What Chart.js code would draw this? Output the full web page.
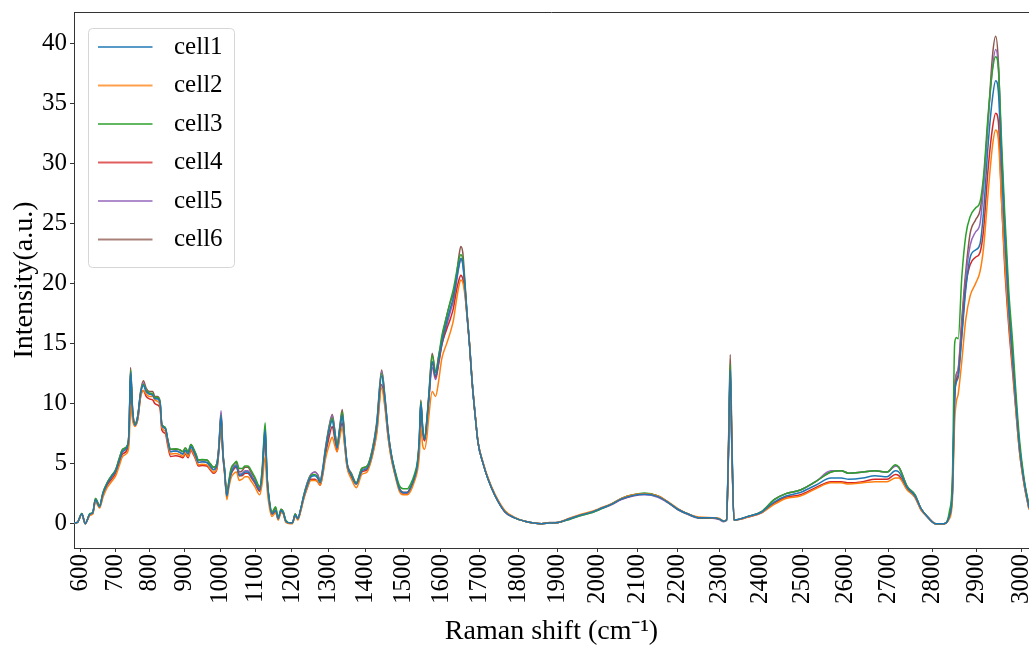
<!DOCTYPE html>
<html>
<head>
<meta charset="utf-8">
<script src="https://cdn.jsdelivr.net/npm/chart.js@4.4.1/dist/chart.umd.min.js"></script>
<style>
  html, body { margin: 0; padding: 0; background: #fff; overflow: hidden; }
  #wrap { width: 1029px; height: 648px; }
</style>
</head>
<body>
<div id="wrap"><canvas id="myChart1" width="1029" height="648"></canvas></div>
<script>
// Raman shift (cm-1) of the sampled points
const shift = [
  580, 590, 603, 613, 627, 635, 643, 655, 665, 677,
  690, 702, 712, 722, 737, 741, 745, 751, 758, 766,
  774, 782, 790, 799, 809, 815, 822, 830, 835, 845,
  852, 860, 875, 886, 895, 902, 910, 918, 926, 932,
  939, 950, 963, 972, 982, 991, 997, 1003, 1008, 1013,
  1019, 1025, 1031, 1040, 1046, 1054, 1062, 1070, 1078, 1088,
  1097, 1111, 1118, 1126, 1131, 1138, 1145, 1155, 1162, 1170,
  1176, 1183, 1195, 1201, 1209, 1216, 1224, 1232, 1242, 1252,
  1263, 1270, 1277, 1284, 1291, 1302, 1310, 1316, 1323, 1330,
  1337, 1344, 1350, 1362, 1375, 1390, 1404, 1418, 1430, 1443,
  1452, 1460, 1468, 1478, 1490, 1500, 1511, 1520, 1530, 1538,
  1543, 1547, 1552, 1557, 1563, 1568, 1577, 1586, 1594, 1602,
  1615, 1625, 1633, 1640, 1647, 1652, 1657, 1662, 1668, 1675,
  1681, 1690, 1697, 1710, 1723, 1740, 1766, 1790, 1817, 1840,
  1860, 1880, 1902, 1930, 1962, 1990, 2012, 2035, 2061, 2090,
  2118, 2151, 2175, 2200, 2225, 2250, 2283, 2300, 2311, 2318,
  2323, 2327, 2331, 2336, 2370, 2402, 2432, 2460, 2494, 2530,
  2566, 2590, 2607, 2640, 2668, 2696, 2715, 2723, 2742, 2760,
  2773, 2790, 2807, 2826, 2838, 2845, 2850, 2854, 2858, 2866,
  2875, 2885, 2897, 2907, 2915, 2925, 2935, 2942, 2948, 2955,
  2962, 2971, 2980, 2986, 2995, 3005, 3016
];

const cell1 = [
  0.05, 0.1, 0.8, 0, 0.8, 0.9, 2.0, 1.4, 2.5, 3.3,
  3.9, 4.4, 5.2, 6.0, 6.5, 7.8, 12.6, 9.3, 8.2, 8.9,
  10.8, 11.5, 11.0, 10.8, 10.7, 10.4, 10.4, 10.0, 8.2, 7.9,
  6.9, 6.0, 6.05, 5.95, 5.8, 6.1, 5.8, 6.4, 6.0, 5.6,
  5.1, 5.15, 5.1, 4.8, 4.5, 4.8, 6.3, 9.0, 5.9, 4.3,
  2.3, 3.3, 4.2, 4.7, 4.8, 4.0, 4.1, 4.3, 4.3, 3.9,
  3.5, 2.8, 4.2, 7.8, 3.9, 1.7, 0.8, 1.1, 0.4, 1.1,
  0.9, 0.2, 0.05, 0.05, 0.7, 0.4, 1.2, 2.2, 3.2, 3.9,
  4.0, 3.8, 3.4, 4.3, 5.9, 7.8, 8.6, 7.6, 6.3, 7.7,
  9.0, 6.8, 5.0, 4.0, 3.3, 4.4, 4.6, 5.9, 8.1, 12.3,
  10.2, 7.6, 5.8, 4.3, 2.9, 2.6, 2.6, 3.0, 3.8, 4.9,
  6.8, 10.0, 7.8, 7.0, 8.5, 10.4, 13.5, 12.3, 13.6, 15.0,
  16.8, 18.0, 18.9, 20.2, 21.5, 22.1, 21.7, 20.0, 17.5, 14.8,
  12.0, 8.8, 6.7, 5.0, 3.7, 2.4, 1.0, 0.5, 0.2, 0.05,
  0, 0.05, 0.1, 0.4, 0.75, 1.0, 1.3, 1.6, 2.05, 2.35,
  2.45, 2.25, 1.8, 1.2, 0.8, 0.5, 0.5, 0.4, 0.2, 0.3,
  6.4, 12.8, 6.4, 0.3, 0.6, 0.95, 1.8, 2.3, 2.6, 3.2,
  3.8, 3.8, 3.7, 3.8, 4.0, 3.9, 4.4, 4.3, 3.0, 2.3,
  1.3, 0.5, 0, 0, 0.6, 2.6, 10.5, 11.8, 12.2, 15.5,
  19.5, 22.2, 22.8, 23.3, 26.0, 31.5, 35.5, 36.9, 36.0, 30.0,
  24.0, 18.0, 13.5, 10.5, 6.3, 3.5, 1.3
];

const cell2 = [
  0.05, 0.1, 0.75, 0, 0.7, 0.8, 1.8, 1.3, 2.2, 3.0,
  3.5, 4.0, 4.8, 5.6, 6.0, 6.8, 9.9, 8.6, 8.1, 8.7,
  10.5, 11.1, 10.8, 10.6, 10.6, 10.3, 10.2, 9.8, 8.0, 7.7,
  6.7, 5.8, 5.85, 5.75, 5.6, 5.9, 5.6, 6.2, 5.8, 5.4,
  4.9, 4.95, 4.9, 4.6, 4.3, 4.6, 6.2, 8.9, 5.8, 4.1,
  2.0, 3.0, 3.8, 4.2, 4.3, 3.6, 3.7, 3.9, 3.9, 3.5,
  3.1, 2.4, 3.4, 5.6, 3.0, 1.3, 0.6, 0.9, 0.3, 0.9,
  0.8, 0.1, 0, 0, 0.6, 0.3, 1.0, 2.0, 3.0, 3.6,
  3.6, 3.5, 3.2, 4.0, 5.3, 6.6, 7.2, 6.6, 6.0, 7.1,
  8.0, 6.3, 4.7, 3.7, 3.0, 4.1, 4.3, 5.6, 7.5, 11.3,
  9.6, 7.2, 5.5, 4.1, 2.7, 2.4, 2.4, 2.7, 3.5, 4.4,
  5.6, 8.0, 6.5, 6.2, 7.2, 8.9, 11.0, 10.6, 11.9, 13.7,
  15.0, 16.0, 17.0, 18.5, 19.8, 20.3, 20.1, 19.2, 17.4, 14.9,
  12.1, 8.9, 6.8, 5.1, 3.8, 2.5, 1.1, 0.55, 0.2, 0.05,
  0, 0.05, 0.1, 0.45, 0.8, 1.05, 1.35, 1.65, 2.1, 2.4,
  2.5, 2.3, 1.85, 1.25, 0.8, 0.55, 0.5, 0.45, 0.2, 0.3,
  6.1, 12.2, 6.1, 0.3, 0.55, 0.9, 1.6, 2.1, 2.3, 2.9,
  3.4, 3.4, 3.3, 3.4, 3.5, 3.5, 3.8, 3.8, 2.8, 2.2,
  1.2, 0.5, 0, 0, 0.4, 2.0, 8.5, 10.2, 10.8, 13.5,
  17.0, 19.0, 20.0, 21.0, 23.0, 27.5, 31.5, 32.8, 32.0, 27.0,
  22.0, 17.0, 13.0, 10.0, 6.0, 3.3, 1.2
];

const cell3 = [
  0.05, 0.1, 0.85, 0, 0.85, 0.95, 2.1, 1.5, 2.6, 3.4,
  4.0, 4.5, 5.4, 6.2, 6.6, 8.0, 12.8, 9.4, 8.3, 9.0,
  10.9, 11.6, 11.1, 10.9, 10.8, 10.5, 10.5, 10.1, 8.3, 8.0,
  7.0, 6.2, 6.25, 6.15, 6.0, 6.3, 6.0, 6.6, 6.2, 5.8,
  5.3, 5.35, 5.3, 5.0, 4.7, 5.0, 6.4, 9.0, 5.9, 4.5,
  2.4, 3.6, 4.6, 5.0, 5.2, 4.6, 4.6, 4.8, 4.8, 4.4,
  3.9, 3.1, 4.7, 8.4, 4.2, 1.9, 1.0, 1.4, 0.5, 1.2,
  1.0, 0.3, 0.05, 0.05, 0.8, 0.4, 1.2, 2.3, 3.3, 4.0,
  4.1, 3.9, 3.5, 4.4, 6.0, 8.0, 8.8, 7.8, 6.5, 7.9,
  9.3, 6.9, 5.0, 4.1, 3.4, 4.6, 4.8, 6.1, 8.3, 12.5,
  10.3, 7.7, 5.9, 4.5, 3.2, 2.9, 2.9, 3.3, 4.1, 5.2,
  7.1, 10.2, 8.0, 7.1, 8.7, 10.6, 14.0, 12.6, 13.9, 15.6,
  17.3, 18.6, 19.6, 20.8, 22.0, 22.4, 22.0, 20.2, 17.6, 14.8,
  12.0, 8.8, 6.7, 5.0, 3.7, 2.4, 1.05, 0.5, 0.2, 0.05,
  0, 0.05, 0.1, 0.35, 0.7, 0.95, 1.25, 1.6, 2.1, 2.4,
  2.55, 2.3, 1.8, 1.2, 0.8, 0.5, 0.5, 0.4, 0.2, 0.3,
  6.6, 13.3, 6.6, 0.3, 0.6, 1.0, 2.0, 2.5, 2.8, 3.5,
  4.3, 4.4, 4.2, 4.3, 4.4, 4.3, 4.9, 4.7, 3.1, 2.4,
  1.3, 0.5, 0, 0, 1.0, 4.0, 15.0, 15.5, 15.4, 20.5,
  24.0, 25.6, 26.3, 26.8, 29.0, 34.0, 37.8, 38.9, 38.0, 32.0,
  26.0, 19.5, 15.0, 11.5, 7.0, 3.8, 1.5
];

const cell4 = [
  0.05, 0.1, 0.8, 0, 0.75, 0.85, 1.9, 1.4, 2.4, 3.2,
  3.7, 4.2, 5.0, 5.8, 6.3, 7.6, 12.4, 9.0, 8.2, 8.7,
  10.6, 11.1, 10.6, 10.4, 10.3, 10.0, 9.9, 9.6, 7.8, 7.5,
  6.5, 5.6, 5.65, 5.6, 5.5, 5.8, 5.5, 6.1, 5.7, 5.3,
  4.8, 4.85, 4.8, 4.5, 4.2, 4.5, 6.1, 8.8, 5.7, 4.2,
  2.3, 3.3, 4.1, 4.6, 4.7, 4.0, 4.0, 4.2, 4.2, 3.8,
  3.4, 2.7, 4.0, 7.3, 3.8, 1.7, 0.8, 1.0, 0.4, 1.0,
  0.9, 0.2, 0.05, 0.05, 0.7, 0.4, 1.1, 2.1, 3.0, 3.7,
  3.7, 3.5, 3.2, 4.1, 5.6, 7.3, 8.1, 7.2, 6.0, 7.4,
  8.4, 6.5, 4.8, 3.9, 3.3, 4.3, 4.5, 5.7, 7.7, 11.6,
  9.8, 7.3, 5.6, 4.2, 2.9, 2.6, 2.6, 3.0, 3.8, 4.8,
  6.6, 9.8, 7.6, 6.9, 8.4, 10.4, 13.4, 12.2, 13.4, 14.9,
  16.2, 17.1, 18.0, 19.3, 20.3, 20.7, 20.4, 19.5, 17.3, 14.7,
  11.9, 8.8, 6.7, 5.0, 3.7, 2.4, 1.0, 0.5, 0.2, 0.05,
  0, 0.05, 0.1, 0.4, 0.75, 1.0, 1.3, 1.6, 2.05, 2.35,
  2.5, 2.3, 1.8, 1.2, 0.8, 0.5, 0.45, 0.4, 0.2, 0.3,
  6.3, 12.5, 6.3, 0.3, 0.55, 0.9, 1.7, 2.2, 2.4, 3.0,
  3.5, 3.5, 3.4, 3.5, 3.7, 3.7, 4.1, 4.0, 2.9, 2.2,
  1.2, 0.5, 0, 0, 0.6, 2.6, 10.5, 12.0, 12.4, 15.8,
  19.8, 21.6, 22.2, 22.6, 24.5, 29.5, 33.0, 34.2, 33.5, 27.0,
  21.5, 16.5, 12.5, 9.8, 6.0, 3.3, 1.2
];

const cell5 = [
  0.05, 0.1, 0.8, 0, 0.8, 0.9, 2.0, 1.5, 2.5, 3.3,
  3.9, 4.4, 5.3, 6.1, 6.5, 7.9, 12.7, 9.4, 8.4, 9.0,
  10.9, 11.7, 11.1, 10.8, 10.7, 10.4, 10.4, 10.0, 8.2, 7.9,
  6.9, 6.0, 6.05, 5.95, 5.8, 6.1, 5.8, 6.4, 6.0, 5.6,
  5.1, 5.15, 5.1, 4.8, 4.5, 4.8, 6.5, 9.4, 6.1, 4.4,
  2.3, 3.4, 4.3, 4.8, 4.9, 4.1, 4.2, 4.4, 4.4, 4.0,
  3.6, 2.9, 4.3, 7.6, 3.9, 1.7, 0.8, 1.1, 0.4, 1.1,
  0.9, 0.2, 0.05, 0.05, 0.8, 0.4, 1.2, 2.3, 3.4, 4.1,
  4.3, 4.1, 3.6, 4.5, 6.1, 8.1, 9.0, 7.9, 6.4, 7.8,
  9.2, 6.9, 5.0, 4.1, 3.4, 4.5, 4.7, 6.1, 8.3, 12.7,
  10.4, 7.7, 5.9, 4.4, 2.9, 2.5, 2.5, 2.9, 3.8, 4.9,
  6.8, 10.1, 7.8, 6.9, 8.3, 10.2, 13.0, 12.0, 13.3, 14.8,
  16.5, 17.7, 18.6, 20.0, 21.4, 22.0, 21.6, 20.0, 17.5, 14.8,
  12.0, 8.8, 6.7, 5.0, 3.7, 2.4, 1.0, 0.5, 0.2, 0.05,
  0, 0.05, 0.1, 0.35, 0.7, 0.95, 1.25, 1.55, 2.0, 2.3,
  2.4, 2.2, 1.75, 1.15, 0.75, 0.45, 0.45, 0.35, 0.15, 0.25,
  5.9, 11.8, 5.9, 0.3, 0.6, 1.0, 2.0, 2.5, 2.8, 3.5,
  4.4, 4.4, 4.2, 4.3, 4.4, 4.3, 4.8, 4.7, 3.1, 2.4,
  1.3, 0.5, 0, 0, 0.7, 3.0, 11.0, 12.4, 12.8, 16.5,
  20.5, 23.2, 24.3, 25.0, 28.0, 33.5, 38.0, 39.5, 38.0, 31.0,
  25.0, 18.5, 14.0, 10.8, 6.5, 3.6, 1.4
];

const cell6 = [
  0.05, 0.1, 0.85, 0, 0.8, 0.9, 2.1, 1.5, 2.6, 3.4,
  4.0, 4.5, 5.4, 6.2, 6.6, 8.0, 13.0, 9.5, 8.3, 9.0,
  11.0, 11.9, 11.3, 11.0, 11.0, 10.6, 10.6, 10.2, 8.3, 8.0,
  7.0, 6.2, 6.2, 6.15, 6.0, 6.3, 6.0, 6.6, 6.2, 5.8,
  5.3, 5.3, 5.3, 5.0, 4.7, 5.0, 6.5, 9.2, 6.0, 4.5,
  2.3, 3.5, 4.5, 5.0, 5.1, 4.3, 4.4, 4.7, 4.7, 4.2,
  3.8, 3.0, 4.5, 8.0, 4.0, 1.8, 0.9, 1.3, 0.4, 1.2,
  1.0, 0.2, 0.05, 0.05, 0.8, 0.4, 1.2, 2.3, 3.4, 4.1,
  4.3, 4.1, 3.6, 4.6, 6.2, 8.2, 9.1, 8.0, 6.5, 8.0,
  9.5, 7.0, 5.1, 4.2, 3.4, 4.6, 4.8, 6.2, 8.5, 12.8,
  10.5, 7.8, 5.9, 4.4, 3.0, 2.6, 2.6, 3.0, 3.9, 5.0,
  7.0, 10.3, 8.0, 7.0, 8.7, 10.7, 14.2, 12.6, 14.0, 15.3,
  17.3, 18.5, 19.2, 20.5, 22.3, 23.1, 22.6, 20.5, 17.6, 14.8,
  12.0, 8.8, 6.7, 5.0, 3.7, 2.4, 1.0, 0.5, 0.2, 0.05,
  0, 0.1, 0.1, 0.4, 0.75, 1.0, 1.3, 1.6, 2.1, 2.4,
  2.5, 2.3, 1.8, 1.2, 0.8, 0.5, 0.5, 0.4, 0.2, 0.3,
  7.0, 14.1, 7.0, 0.3, 0.6, 1.0, 2.0, 2.5, 2.8, 3.5,
  4.3, 4.4, 4.2, 4.3, 4.4, 4.3, 4.8, 4.7, 3.1, 2.4,
  1.3, 0.5, 0, 0, 0.7, 3.0, 11.0, 12.5, 12.9, 17.0,
  21.0, 24.2, 25.3, 26.1, 28.5, 33.5, 39.0, 40.6, 38.5, 31.0,
  25.0, 18.5, 14.0, 10.7, 6.5, 3.6, 1.4
];

const seriesNames = ["cell1", "cell2", "cell3", "cell4", "cell5", "cell6"];
const seriesValues = [cell1, cell2, cell3, cell4, cell5, cell6];
const seriesColors = ["#1f77b4", "#ff7f0e", "#2ca02c", "#d62728", "#9467bd", "#8c564b"];

const xTickLabels = [600, 700, 800, 900, 1000, 1100, 1200, 1300, 1400, 1500, 1600, 1700, 1800,
  1900, 2000, 2100, 2200, 2300, 2400, 2500, 2600, 2700, 2800, 2900, 3000];
const yTickLabels = [0, 5, 10, 15, 20, 25, 30, 35, 40];

// the detector axis is evenly spaced in wavelength (532 nm laser), not in cm-1
const LASER = 1e7 / 532;
function toNm(s) {
  return 1e7 / (LASER - s);
}

const FONT = "'Liberation Serif', 'Times New Roman', serif";

// legend handle: 55px line inside a 64px wide box, so the label sits further right
function swatch(color) {
  const c = document.createElement("canvas");
  c.width = 64;
  c.height = 4;
  const g = c.getContext("2d");
  g.strokeStyle = color;
  g.lineWidth = 1.5;
  g.beginPath();
  g.moveTo(0, 2);
  g.lineTo(55, 2);
  g.stroke();
  return c;
}

const datasets = seriesNames.map((name, k) => ({
  label: name,
  data: shift.map((s, i) => ({ x: toNm(s), y: seriesValues[k][i] })),
  borderColor: seriesColors[k],
  backgroundColor: seriesColors[k],
  borderWidth: 1.5,
  pointRadius: 0,
  pointStyle: swatch(seriesColors[k]),
  cubicInterpolationMode: "monotone",
}));

// nudge the in-plot legend off the axes, draw top spine and legend frame
const frame = {
  id: "frame",
  afterLayout(chart) {
    const lg = chart.legend;
    lg.left += 10;
    lg.right += 10;
    lg.top += 21;
    lg.bottom += 21;
  },
  afterDraw(chart) {
    const { ctx, chartArea: a } = chart;
    ctx.save();
    ctx.strokeStyle = "#333";
    ctx.lineWidth = 1;
    ctx.beginPath();
    ctx.moveTo(a.left, a.top + 0.5);
    ctx.lineTo(a.right, a.top + 0.5);
    ctx.stroke();

    const boxes = chart.legend.legendHitBoxes;
    if (boxes && boxes.length) {
      let l = Infinity, t = Infinity, r = -Infinity, b = -Infinity;
      boxes.forEach((h) => {
        l = Math.min(l, h.left);
        t = Math.min(t, h.top);
        r = Math.max(r, h.left + h.width);
        b = Math.max(b, h.top + h.height);
      });
      l -= 10; t -= 7; r += 11; b += 14;
      ctx.strokeStyle = "#d6d6d6";
      ctx.beginPath();
      ctx.roundRect(Math.round(l) + 0.5, Math.round(t) + 0.5, Math.round(r - l), Math.round(b - t), 4);
      ctx.stroke();
    }
    ctx.restore();
  },
};

const config = {
  type: "line",
  data: { datasets: datasets },
  options: {
    responsive: false,
    animation: false,
    devicePixelRatio: 1,
    layout: { padding: { top: 12, right: 0, left: 0, bottom: 0 } },
    plugins: {
      tooltip: { enabled: false },
      legend: {
        position: "chartArea",
        align: "start",
        labels: {
          usePointStyle: true,
          pointStyleWidth: 64,
          color: "#000",
          padding: 13.5,
          font: { family: FONT, size: 25 },
        },
      },
    },
    scales: {
      x: {
        type: "linear",
        bounds: "data",
        min: toNm(580),
        max: toNm(3016),
        afterBuildTicks: (scale) => {
          scale.ticks = xTickLabels.map((v) => ({ value: toNm(v) }));
        },
        afterFit: (scale) => {
          scale.height = 100;
          scale.paddingLeft = 0;
          scale.paddingRight = 0;
        },
        ticks: {
          autoSkip: false,
          minRotation: 90,
          maxRotation: 90,
          padding: 2,
          color: "#000",
          font: { family: FONT, size: 25 },
          callback: (v, i) => xTickLabels[i],
        },
        grid: { drawOnChartArea: false, drawTicks: true, tickLength: 4, color: "#333" },
        border: { display: true, color: "#333", width: 1 },
        title: {
          display: true,
          text: "Raman shift (cm⁻¹)",
          color: "#000",
          font: { family: FONT, size: 28 },
          padding: { top: 0, bottom: 0 },
        },
      },
      y: {
        min: -2.03,
        max: 42.63,
        afterBuildTicks: (scale) => {
          scale.ticks = yTickLabels.map((v) => ({ value: v }));
        },
        afterFit: (scale) => {
          scale.width = 74;
          scale.paddingTop = 0;
          scale.paddingBottom = 0;
        },
        ticks: {
          padding: 3,
          color: "#000",
          font: { family: FONT, size: 25 },
        },
        grid: { drawOnChartArea: false, drawTicks: true, tickLength: 4, color: "#333" },
        border: { display: true, color: "#333", width: 1 },
        title: {
          display: true,
          text: "Intensity(a.u.)",
          color: "#000",
          font: { family: FONT, size: 28 },
          padding: { top: 8, bottom: 0 },
        },
      },
    },
  },
  plugins: [frame],
};

const myChart = new Chart(document.getElementById("myChart1"), config);
</script>
</body>
</html>
